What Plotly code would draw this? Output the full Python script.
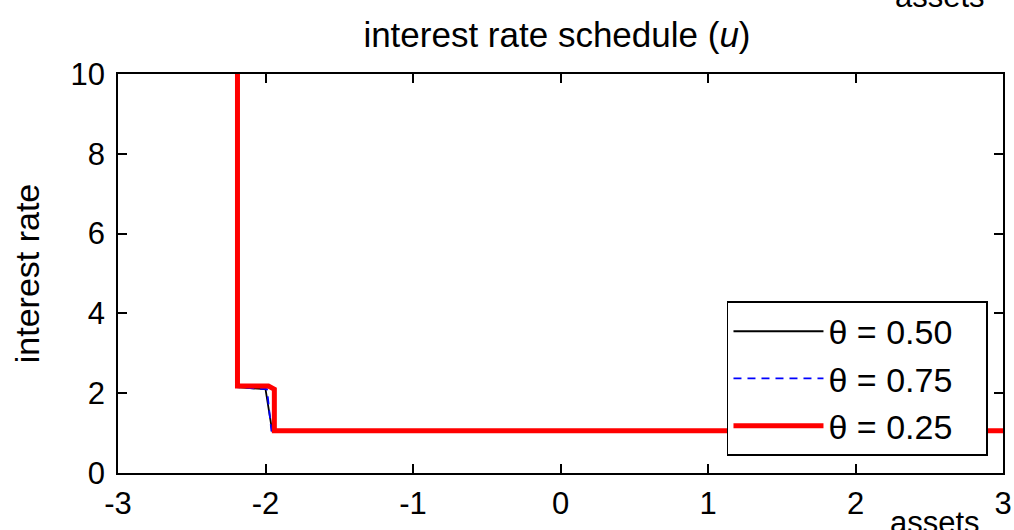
import plotly.graph_objects as go

# ---- data ----
x_050 = [-2.19, -2.19, -2.0, -1.955, 3.0]
y_050 = [10.0, 2.15, 2.10, 1.06, 1.06]

x_075 = [-2.19, -2.19, -1.99, -1.96, 3.0]
y_075 = [10.0, 2.15, 2.10, 1.06, 1.06]

x_025 = [-2.19, -2.19, -1.98, -1.94, -1.94, 3.0]
y_025 = [10.0, 2.18, 2.18, 2.10, 1.06, 1.06]

names = ["θ = 0.50", "θ = 0.75", "θ = 0.25"]
x_ticks = [-3, -2, -1, 0, 1, 2, 3]
x_labels = ["-3", "-2", "-1", "0", "1", "2", "3"]
y_ticks = [0, 2, 4, 6, 8, 10]
y_labels = ["0", "2", "4", "6", "8", "10"]

LAB = "Liberation Sans"

fig = go.Figure()
fig.add_trace(go.Scatter(x=x_050, y=y_050, mode="lines", name=names[0] + "\u00a0\u00a0\u00a0",
                         line=dict(color="black", width=1.8)))
fig.add_trace(go.Scatter(x=x_075, y=y_075, mode="lines", name=names[1] + "\u00a0\u00a0\u00a0",
                         line=dict(color="#0000ff", width=1.8, dash="8px,6px")))
fig.add_trace(go.Scatter(x=x_025, y=y_025, mode="lines", name=names[2] + "\u00a0\u00a0\u00a0",
                         line=dict(color="#ff0000", width=5)))

axis_common = dict(showgrid=False, zeroline=False, showline=True, linecolor="black",
                   linewidth=1.6, mirror="ticks", ticks="inside", ticklen=9,
                   tickwidth=1.6, tickcolor="black", automargin=False,
                   tickfont=dict(family=LAB, size=31, color="black"))

fig.update_layout(
    width=1014, height=530,
    margin=dict(l=118, r=11, t=74, b=57),
    plot_bgcolor="white", paper_bgcolor="white",
    title=dict(text="interest rate schedule (<i>u</i>)", x=0.496, xanchor="center",
               y=0.934, yanchor="middle", xref="paper",
               font=dict(family=LAB, size=35, color="black")),
    xaxis=dict(range=[-3, 3], tickvals=x_ticks, ticktext=x_labels,
               ticklabelstandoff=2, **axis_common),
    yaxis=dict(range=[0, 10], tickvals=y_ticks, ticktext=y_labels, ticklabelstandoff=5,
               title=dict(text="interest rate", font=dict(family=LAB, size=34, color="black"),
                          standoff=21),
               **axis_common),
    legend=dict(x=0.688, xanchor="left", y=0.431, yanchor="top",
                bgcolor="white", bordercolor="black", borderwidth=1.6,
                font=dict(family=LAB, size=34, color="black"),
                itemwidth=90, tracegroupgap=0),
    showlegend=True,
    annotations=[
        dict(text="assets", xref="paper", yref="paper", x=0.923, y=-0.125,
             xanchor="center", yanchor="middle", showarrow=False,
             font=dict(family=LAB, size=31, color="black")),
        dict(text="assets", xref="paper", yref="paper", x=0.929, y=1.193,
             xanchor="center", yanchor="middle", showarrow=False,
             font=dict(family=LAB, size=31, color="black")),
    ],
)

fig.write_html("out.html", config={"displayModeBar": False},
               post_script="document.body.style.margin='0';")
